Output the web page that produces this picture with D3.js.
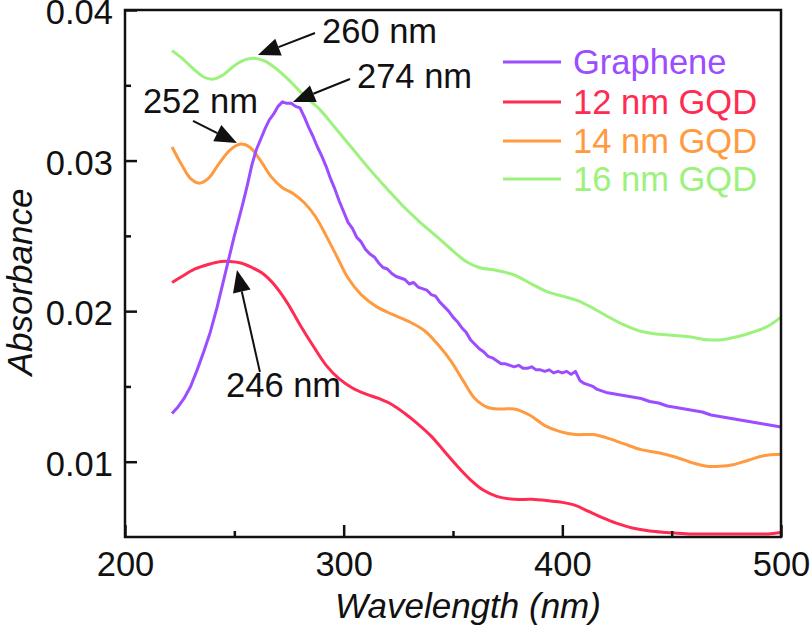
<!DOCTYPE html>
<html>
<head>
<meta charset="utf-8">
<script src="https://cdn.jsdelivr.net/npm/d3@7"></script>
<style>
  html, body { margin: 0; padding: 0; background: #fff; }
  svg { display: block; font-family: "Liberation Sans", Arial, sans-serif; }
</style>
</head>
<body>
<svg id="chart" width="810" height="629"></svg>
<script>
// ---------------- data ----------------
const seriesNames = ["Graphene", "12 nm GQD", "14 nm GQD", "16 nm GQD"];
const seriesColors = ["#9b4dff", "#ff2b52", "#ff9a40", "#9cf27c"];

const wlGraphene = [221.5,224,227,230,233,236,239,242,245,248,250,252,254,256,258,260,262,264,266,268,270,272,274,276,278,280,282,284,286,288,290,292,294,296,298,300,302,304,306,308,310,312,314,316,318,320,322,324,326,328,330,332,334,336,338,340,342,344,346,348,350,352,354,356,358,360,362,364,366,368,370,372,374,376,378,380,382,384,386,388,390,392,394,396,398,400,402,404,406,408,410,412,414,416,418,420,424,428,432,436,440,444,448,452,456,460,464,468,472,476,480,484,488,492,496,500];
const absGraphene = [0.0132,0.0136,0.0142,0.0150,0.0161,0.0173,0.0186,0.0202,0.0220,0.0238,0.0250,0.0261,0.0272,0.0284,0.0297,0.0307,0.0314,0.0321,0.0327,0.0331,0.0336,0.0339,0.0338,0.0338,0.0336,0.0335,0.0329,0.0322,0.0316,0.0309,0.0303,0.0296,0.0288,0.0281,0.0273,0.0266,0.0259,0.0255,0.0249,0.0246,0.0241,0.0238,0.0236,0.0232,0.0229,0.0228,0.0225,0.0223,0.0222,0.0221,0.0218,0.0219,0.0216,0.0215,0.0214,0.0211,0.0210,0.0206,0.0203,0.0200,0.0196,0.0193,0.0189,0.0186,0.0181,0.0178,0.0175,0.0173,0.0170,0.0169,0.0167,0.0165,0.0165,0.0164,0.0163,0.0164,0.0162,0.0162,0.0163,0.0161,0.0161,0.0160,0.0161,0.0159,0.0160,0.0159,0.0160,0.0158,0.0160,0.0154,0.0152,0.0151,0.0150,0.0148,0.0147,0.0146,0.0145,0.0144,0.0143,0.0142,0.0140,0.0139,0.0137,0.0136,0.0135,0.0134,0.0133,0.0131,0.0130,0.0129,0.0128,0.0127,0.0126,0.0125,0.0124,0.0123];

const wl12 = [221.5,226,232,238,244,248,253,258,263,268,274,280,286,292,298,304,310,316,322,328,334,340,346,352,358,364,370,378,386,394,400,406,412,418,425,432,440,448,458,468,478,488,494,500];
const abs12 = [0.0219,0.0223,0.0228,0.0231,0.0233,0.0233,0.0232,0.0229,0.0225,0.0218,0.0206,0.0191,0.0177,0.0164,0.0155,0.0149,0.0145,0.0142,0.0138,0.0132,0.0125,0.0117,0.0107,0.0097,0.0088,0.0081,0.0077,0.0075,0.0075,0.0074,0.0073,0.0071,0.0067,0.0063,0.0059,0.0056,0.0054,0.0053,0.0052,0.0052,0.0052,0.0052,0.0052,0.0053];

const wl14 = [221.5,226,230,234,238,243,248,253,257,262,267,272,277,282,287,292,297,302,308,315,322,330,337,343,349,355,360,366,372,378,385,392,399,406,414,420,428,436,444,452,460,466,472,478,485,492,500];
const abs14 = [0.0309,0.0297,0.0288,0.0285,0.0288,0.0298,0.0307,0.0311,0.0309,0.0300,0.0289,0.0282,0.0278,0.0272,0.0263,0.0250,0.0236,0.0222,0.0211,0.0203,0.0198,0.0193,0.0187,0.0178,0.0167,0.0153,0.0142,0.0136,0.0135,0.0135,0.0131,0.0124,0.0120,0.0118,0.0118,0.0116,0.0112,0.0108,0.0106,0.0103,0.0099,0.0097,0.0097,0.0098,0.0101,0.0104,0.0105];

const wl16 = [221.5,226,232,236,240,245,250,255,259,264,270,276,282,289,296,304,312,320,327,335,343,350,356,362,370,378,386,393,400,407,414,420,428,435,442,450,458,466,473,480,487,494,500];
const abs16 = [0.0373,0.0368,0.0360,0.03555,0.0354,0.0357,0.0363,0.0367,0.0368,0.0366,0.0360,0.0352,0.0343,0.0334,0.0322,0.0308,0.0294,0.0281,0.0270,0.0259,0.0249,0.0240,0.0233,0.0229,0.0227,0.0224,0.0218,0.0213,0.0210,0.0207,0.0202,0.0197,0.0191,0.0187,0.0185,0.0184,0.0183,0.0181,0.0181,0.0183,0.0186,0.0190,0.0196];

const xMajorTicks = [200, 300, 400, 500];
const xMinorTicks = [250, 350, 450];
const yMajorTicks = [0.01, 0.02, 0.03, 0.04];
const yMinorTicks = [0.015, 0.025, 0.035];

// annotations: label, text position, arrow tail, arrow tip (data units)
const annoLabels = ["260 nm", "274 nm", "252 nm", "246 nm"];
const annoText = [[290.1, 0.03781], [306.1, 0.03482], [208.2, 0.03316], [246.2, 0.0143]];
const annoTail = [[286.9, 0.03847], [302.9, 0.03542], [231.1, 0.03263], [261.7, 0.01596]];
const annoTip  = [[260.8, 0.03701], [276.8, 0.03389], [251.2, 0.03117], [251.2, 0.02273]];

// ---------------- chart ----------------
const svg = d3.select("#chart");
const mLeft = 125, mRight = 781, mTop = 10, mBottom = 537;
const x = d3.scaleLinear().domain([200, 500]).range([mLeft, mRight]);
const y = d3.scaleLinear().domain([0.005, 0.04]).range([mBottom, mTop]);
const FS = 34.5;

const series = [
  { name: seriesNames[0], color: seriesColors[0], wl: wlGraphene, ab: absGraphene, curve: d3.curveLinear },
  { name: seriesNames[1], color: seriesColors[1], wl: wl12, ab: abs12, curve: d3.curveCatmullRom },
  { name: seriesNames[2], color: seriesColors[2], wl: wl14, ab: abs14, curve: d3.curveCatmullRom },
  { name: seriesNames[3], color: seriesColors[3], wl: wl16, ab: abs16, curve: d3.curveCatmullRom }
];

const drawOrder = [3, 2, 1, 0];
drawOrder.forEach(i => {
  const s = series[i];
  const pts = s.wl.map((w, k) => [w, s.ab[k]]);
  svg.append("path")
    .datum(pts)
    .attr("fill", "none")
    .attr("stroke", s.color)
    .attr("stroke-width", 3)
    .attr("stroke-linejoin", "round")
    .attr("d", d3.line().x(d => x(d[0])).y(d => y(d[1])).curve(s.curve));
});

// frame
svg.append("rect")
  .attr("x", mLeft).attr("y", mTop)
  .attr("width", mRight - mLeft).attr("height", mBottom - mTop)
  .attr("fill", "none").attr("stroke", "#111").attr("stroke-width", 2.5);

// x axis ticks (inward)
const gx = svg.append("g").attr("transform", `translate(0,${mBottom})`)
  .call(d3.axisBottom(x).tickValues(xMajorTicks).tickSize(-12).tickFormat(d3.format("d")).tickPadding(14));
gx.select(".domain").remove();
gx.selectAll("line").attr("stroke", "#111").attr("stroke-width", 2.5);
gx.selectAll("text").attr("font-size", FS).attr("fill", "#111").attr("font-family", "Liberation Sans, Arial, sans-serif").attr("dy", "0.72em");
const gxm = svg.append("g").attr("transform", `translate(0,${mBottom})`)
  .call(d3.axisBottom(x).tickValues(xMinorTicks).tickSize(-6).tickFormat(""));
gxm.select(".domain").remove();
gxm.selectAll("line").attr("stroke", "#111").attr("stroke-width", 2.5);

// y axis ticks (inward)
const gy = svg.append("g").attr("transform", `translate(${mLeft},0)`)
  .call(d3.axisLeft(y).tickValues(yMajorTicks).tickSize(-12).tickFormat(d3.format(".2f")).tickPadding(12));
gy.select(".domain").remove();
gy.selectAll("line").attr("stroke", "#111").attr("stroke-width", 2.5);
gy.selectAll("text").attr("font-size", FS).attr("fill", "#111").attr("font-family", "Liberation Sans, Arial, sans-serif").attr("dy", "0.4em");
const gym = svg.append("g").attr("transform", `translate(${mLeft},0)`)
  .call(d3.axisLeft(y).tickValues(yMinorTicks).tickSize(-6).tickFormat(""));
gym.select(".domain").remove();
gym.selectAll("line").attr("stroke", "#111").attr("stroke-width", 2.5);

// axis titles
svg.append("text")
  .attr("x", 468).attr("y", 618)
  .attr("text-anchor", "middle")
  .attr("font-size", 35).attr("font-style", "italic").attr("fill", "#111")
  .text("Wavelength (nm)");
svg.append("text")
  .attr("transform", "translate(32,282) rotate(-90)")
  .attr("text-anchor", "middle")
  .attr("font-size", 35).attr("font-style", "italic").attr("fill", "#111")
  .text("Absorbance");

// legend
const legY = [62, 102, 141, 179];
series.forEach((s, i) => {
  svg.append("line")
    .attr("x1", 503).attr("x2", 561)
    .attr("y1", legY[i]).attr("y2", legY[i])
    .attr("stroke", s.color).attr("stroke-width", 3);
  svg.append("text")
    .attr("x", 573).attr("y", legY[i])
    .attr("dy", "0.36em")
    .attr("font-size", FS).attr("fill", s.color)
    .text(s.name);
});

// annotations
annoLabels.forEach((lab, i) => {
  const tx = x(annoTail[i][0]), ty = y(annoTail[i][1]);
  const px = x(annoTip[i][0]), py = y(annoTip[i][1]);
  const ang = Math.atan2(py - ty, px - tx);
  const L = 22, H = 9;
  const bx = px - L * Math.cos(ang), by = py - L * Math.sin(ang);
  svg.append("line")
    .attr("x1", tx).attr("y1", ty).attr("x2", bx).attr("y2", by)
    .attr("stroke", "#111").attr("stroke-width", 2);
  const nx = -Math.sin(ang), ny = Math.cos(ang);
  svg.append("polygon")
    .attr("points", [[px, py], [bx + H * nx, by + H * ny], [bx - H * nx, by - H * ny]].map(p => p.join(",")).join(" "))
    .attr("fill", "#111");
  svg.append("text")
    .attr("x", x(annoText[i][0])).attr("y", y(annoText[i][1]))
    .attr("font-size", FS).attr("fill", "#111")
    .text(lab);
});
</script>
</body>
</html>
